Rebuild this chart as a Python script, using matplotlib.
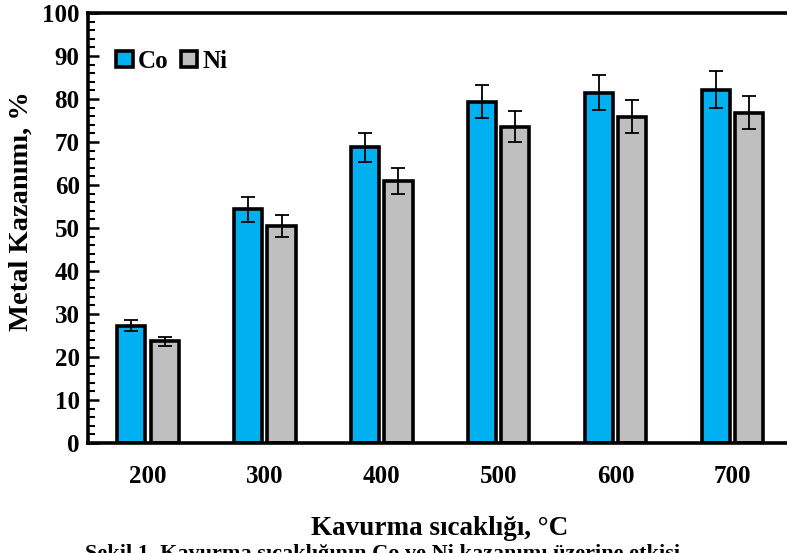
import numpy as np
import matplotlib
matplotlib.use('Agg')
import matplotlib.pyplot as plt
from matplotlib.ticker import MultipleLocator

plt.rcParams['font.family'] = ['Liberation Serif', 'DejaVu Serif']
plt.rcParams['font.weight'] = 'bold'

temps = ['200', '300', '400', '500', '600', '700']
co = [27.3, 54.3, 68.8, 79.4, 81.5, 82.2]
co_err = [1.2, 2.8, 3.4, 3.9, 4.0, 4.2]
ni = [23.6, 50.5, 61.0, 73.6, 75.9, 76.8]
ni_err = [1.1, 2.5, 3.0, 3.5, 3.8, 3.8]

fig = plt.figure(figsize=(7.87, 5.53), dpi=100)
ax = fig.add_axes([0.1118, 0.199, 0.8935, 0.7775])

x = np.arange(len(temps))
w = 0.24
off = 0.142
err_kw = dict(ecolor='black', elinewidth=1.3, capsize=5, capthick=1.3)
ax.bar(x - off, co, w, yerr=co_err, color='#00B0F0', edgecolor='black',
       linewidth=2.6, error_kw=err_kw, label='Co')
ax.bar(x + off, ni, w, yerr=ni_err, color='#BFBFBF', edgecolor='black',
       linewidth=2.6, error_kw=err_kw, label='Ni')

ax.set_xlim(-0.513, 5.5)
ax.set_ylim(0, 100)
ax.set_xticks(x)
ax.set_xticklabels(temps)
ax.yaxis.set_major_locator(MultipleLocator(10))
ax.yaxis.set_minor_locator(MultipleLocator(2))
ax.tick_params(axis='x', length=0, pad=16, labelsize=18)
ax.tick_params(axis='y', which='major', direction='in', length=8, width=1.8, pad=6, labelsize=18)
ax.tick_params(axis='y', which='minor', direction='in', length=5, width=1.5)
for s in ax.spines.values():
    s.set_linewidth(2.6)

ax.set_ylabel('Metal Kazanımı, %', fontsize=20.5, fontweight='bold')
ax.yaxis.set_label_coords(-0.077, 0.54)
ax.set_xlabel('Kavurma sıcaklığı, °C', fontsize=19.5, fontweight='bold')
ax.xaxis.set_label_coords(0.5, -0.17)

leg = ax.legend(loc='center left', bbox_to_anchor=(0.012, 0.888), ncol=2, frameon=False,
                fontsize=18, handlelength=0.65, handleheight=0.65, handletextpad=0.2,
                columnspacing=0.5, borderaxespad=0.4)
for t in leg.get_texts():
    t.set_fontweight('bold')

# caption line, cut at the bottom edge as in the original
fig.text(0.108, 0.016, 'Şekil 1. Kavurma sıcaklığının Co ve Ni kazanımı üzerine etkisi',
         fontsize=16, fontweight='bold', va='top')

fig.savefig('out.png', dpi=100)
